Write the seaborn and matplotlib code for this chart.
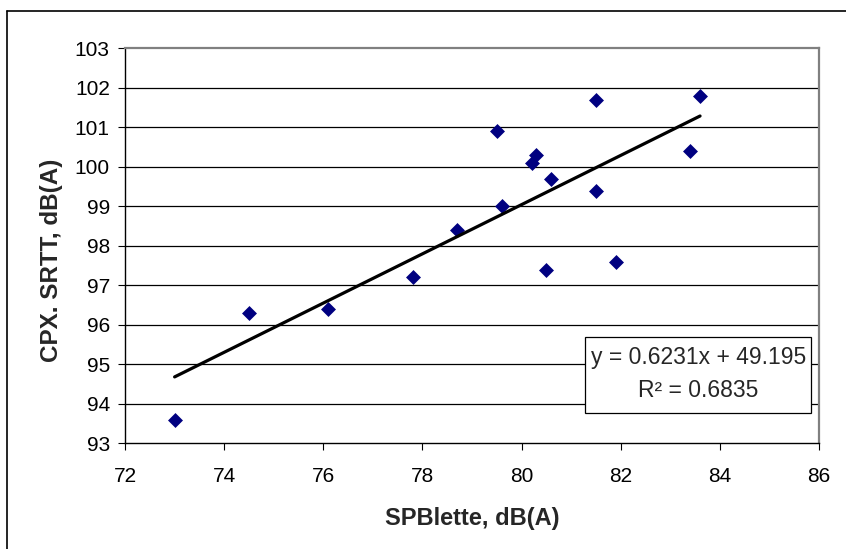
import numpy as np
import pandas as pd
import seaborn as sns
import matplotlib.pyplot as plt
from matplotlib.patches import Rectangle
from matplotlib.lines import Line2D

# values
spblette = [73.0, 74.5, 76.1, 77.8, 78.7, 79.5, 79.6, 80.2, 80.3, 80.6,
            80.5, 81.5, 81.5, 81.9, 83.4, 83.6]
srtt = [93.6, 96.3, 96.4, 97.2, 98.4, 100.9, 99.0, 100.1, 100.3, 99.7,
        97.4, 101.7, 99.4, 97.6, 100.4, 101.8]
slope = 0.6231
intercept = 49.195
r2 = 0.6835
x_ticks = [72, 74, 76, 78, 80, 82, 84, 86]
y_ticks = [93, 94, 95, 96, 97, 98, 99, 100, 101, 102, 103]

df = pd.DataFrame({'x': spblette, 'y': srtt})

sns.set_style("white")
plt.rcParams['font.family'] = ['Liberation Sans', 'DejaVu Sans']

fig = plt.figure(figsize=(8.46, 5.49), dpi=100)
ax = fig.add_axes([0.1478, 0.1925, 0.8203, 0.7195])

# horizontal gridlines
for yv in y_ticks[1:-1]:
    ax.axhline(yv, color='black', lw=0.9, zorder=0)

sns.scatterplot(data=df, x='x', y='y', marker='D', s=58, color='#000080',
                edgecolor='#000080', linewidth=0, ax=ax, zorder=3)

# linear trendline over data range
fit_x = np.array([min(spblette), max(spblette)])
fit = pd.DataFrame({'x': fit_x, 'y': slope * fit_x + intercept})
sns.lineplot(data=fit, x='x', y='y', color='black', lw=2.3, ax=ax, zorder=4)

ax.set_xlim(72, 86)
ax.set_ylim(93, 103)
ax.set_xticks(x_ticks)
ax.set_yticks(y_ticks)
ax.tick_params(axis='both', direction='out', length=5, width=0.8,
               labelsize=15, colors='black', pad=6)
ax.tick_params(axis='x', pad=12)
ax.tick_params(bottom=True, left=True)

for side in ['left', 'bottom']:
    ax.spines[side].set_color('black')
    ax.spines[side].set_linewidth(1.0)
for side in ['top', 'right']:
    ax.spines[side].set_color('#808080')
    ax.spines[side].set_linewidth(1.6)

ax.set_xlabel('SPBlette, dB(A)', fontsize=17, fontweight='bold', labelpad=15)
ax.set_ylabel('CPX. SRTT, dB(A)', fontsize=17.5, fontweight='bold')
ax.yaxis.set_label_coords(-0.09, 0.464)

# equation box
ax.add_patch(Rectangle((0.663, 0.076), 0.326, 0.194, transform=ax.transAxes,
                       facecolor='white', edgecolor='black', lw=0.9, zorder=5))
ax.text(0.826, 0.217, f'y = {slope}x + {intercept}', transform=ax.transAxes,
        ha='center', va='center', fontsize=16.5, zorder=6)
ax.text(0.826, 0.133, f'R² = {r2}', transform=ax.transAxes,
        ha='center', va='center', fontsize=16.5, zorder=6)

# chart-area border (top and left edges visible)
fig.add_artist(Line2D([7 / 846, 1], [1 - 11 / 549, 1 - 11 / 549],
                      transform=fig.transFigure, color='black', lw=1.2))
fig.add_artist(Line2D([7 / 846, 7 / 846], [0, 1 - 11 / 549],
                      transform=fig.transFigure, color='black', lw=1.2))

fig.savefig('out.png', dpi=100)
